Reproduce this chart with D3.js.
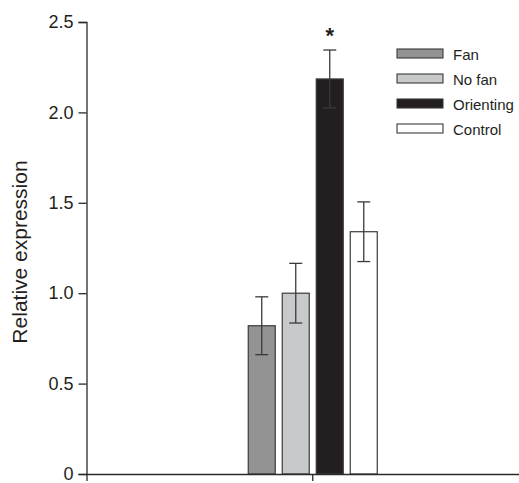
<!DOCTYPE html>
<html>
<head>
<meta charset="utf-8">
<script src="https://cdn.jsdelivr.net/npm/d3@7"></script>
<style>
  html, body { margin: 0; padding: 0; background: #fff; }
  svg { display: block; font-family: "Liberation Sans", Arial, Helvetica, sans-serif; }
</style>
</head>
<body>
<svg id="chart" width="519" height="483"></svg>
<script>
// ---- data ----
const categories = [""];
const seriesNames = ["Fan", "No fan", "Orienting", "Control"];
const seriesValues = [0.82, 1.00, 2.185, 1.34];
const seriesErrors = [0.16, 0.165, 0.16, 0.165];
const seriesColors = ["#939393", "#c8c9cb", "#231f20", "#ffffff"];
const significant = [false, false, true, false];
const yTicks = [0, 0.5, 1.0, 1.5, 2.0, 2.5];
const yTickLabels = ["0", "0.5", "1.0", "1.5", "2.0", "2.5"];
const yLabel = "Relative expression";

// ---- layout ----
const svg = d3.select("#chart");
const axisX = 86.5, yTop = 22, yBottom = 474, xRight = 539;
const ink = "#2a2a2a";

const y = d3.scaleLinear().domain([0, 2.5]).range([yBottom, yTop]);
const x0 = d3.scaleBand().domain(categories).range([axisX, xRight]);
const groupHalf = 64.5;
const x1 = d3.scaleBand().domain(seriesNames).range([-groupHalf, groupHalf]).paddingInner(0.206);

// bars
const g = svg.append("g");
categories.forEach(cat => {
  const cx = x0(cat) + x0.bandwidth() / 2;
  const gg = g.append("g").attr("transform", `translate(${cx},0)`);
  seriesNames.forEach((s, i) => {
    const bx = x1(s), bw = x1.bandwidth();
    gg.append("rect")
      .attr("x", bx).attr("y", y(seriesValues[i]))
      .attr("width", bw).attr("height", y(0) - y(seriesValues[i]))
      .attr("fill", seriesColors[i])
      .attr("stroke", "#3a3a3a").attr("stroke-width", 1.2);
    const mx = bx + bw / 2;
    const hi = y(seriesValues[i] + seriesErrors[i]);
    const lo = y(seriesValues[i] - seriesErrors[i]);
    const cap = 6.5;
    const eb = gg.append("g").attr("stroke", "#3a3a3a").attr("stroke-width", 1.3).attr("fill", "none");
    eb.append("line").attr("x1", mx).attr("x2", mx).attr("y1", hi).attr("y2", lo);
    eb.append("line").attr("x1", mx - cap).attr("x2", mx + cap).attr("y1", hi).attr("y2", hi);
    eb.append("line").attr("x1", mx - cap).attr("x2", mx + cap).attr("y1", lo).attr("y2", lo);
    if (significant[i]) {
      gg.append("text").attr("x", mx).attr("y", hi - 7)
        .attr("text-anchor", "middle").attr("font-size", 22).attr("fill", "#231f20")
        .attr("font-weight", "bold")
        .text("*");
    }
  });
});

// y axis
const yAxis = d3.axisLeft(y).tickValues(yTicks)
  .tickFormat((d, i) => yTickLabels[i]).tickSize(8).tickPadding(5);
const gy = svg.append("g").attr("transform", `translate(${axisX},0)`).call(yAxis);
gy.selectAll("path, line").attr("stroke", ink).attr("stroke-width", 1.3);
gy.selectAll("text").attr("font-size", 18).attr("fill", "#231f20")
  .attr("font-family", "Liberation Sans, Arial, sans-serif");

// x axis
const xAxis = d3.axisBottom(x0).tickSize(7).tickFormat(() => "");
const gx = svg.append("g").attr("transform", `translate(0,${yBottom})`).call(xAxis);
gx.selectAll("path, line").attr("stroke", ink).attr("stroke-width", 1.3);

// y label
svg.append("text")
  .attr("transform", `translate(27,252) rotate(-90)`)
  .attr("text-anchor", "middle")
  .attr("font-size", 21).attr("fill", "#231f20")
  .text(yLabel);

// legend
const legend = svg.append("g").attr("transform", "translate(397,49)");
seriesNames.forEach((s, i) => {
  const row = legend.append("g").attr("transform", `translate(0,${i * 25})`);
  row.append("rect").attr("x", 0).attr("y", 0).attr("width", 46).attr("height", 9)
    .attr("fill", seriesColors[i]).attr("stroke", "#3a3a3a").attr("stroke-width", 1.1);
  row.append("text").attr("x", 56).attr("y", 11)
    .attr("font-size", 15).attr("fill", "#231f20").text(s);
});
</script>
</body>
</html>
